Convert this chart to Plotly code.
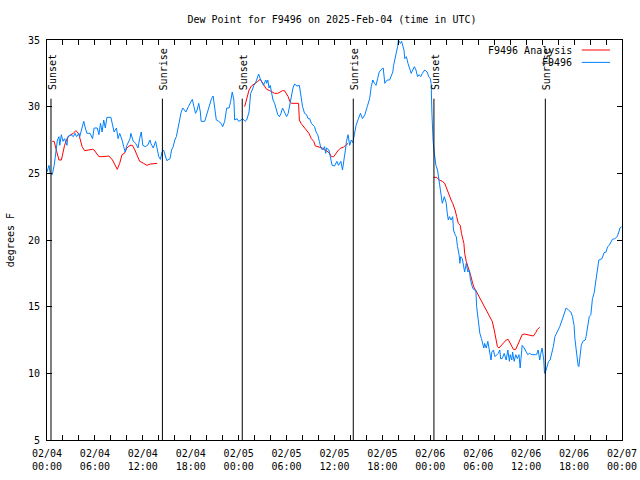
import plotly.graph_objects as go
import pandas as pd

BASE = pd.Timestamp("2025-02-04 00:00")

# Observed dew point (F9496), hours since 2025-02-04 00:00 UTC
obs_hours = [0.0, 0.25, 0.4, 0.66, 0.9, 1.1, 1.3, 1.5, 1.6, 1.8, 2.0, 2.2, 2.5, 2.6, 3.0, 3.3, 3.5, 3.7, 4.0, 4.1,
             4.4, 4.6, 4.8, 5.0, 5.4, 5.7, 5.9, 6.3, 6.5, 6.7, 6.9, 7.1, 7.3, 7.5, 8.0, 8.2, 8.4, 8.7, 8.9, 9.1,
             9.4, 9.6, 9.8, 10.0, 10.4, 10.5, 10.8, 11.1, 11.4, 11.6, 11.8, 12.0, 12.3, 12.6, 12.9, 13.0, 13.3, 13.6, 13.8, 14.0,
             14.2, 14.4, 14.6, 14.9, 15.0, 15.4, 15.6, 15.8, 16.0, 16.2, 16.4, 16.6, 16.8, 17.0, 17.4, 17.7, 18.0, 18.2, 18.4, 18.6,
             18.8, 19.0, 19.2, 19.3, 19.75, 20.0, 20.3, 20.6, 20.8, 21.0, 21.2, 21.5, 21.8, 22.0, 22.25, 22.5, 22.8, 23.0, 23.2, 23.4,
             23.5, 23.8, 24.0, 24.3, 24.5, 24.8, 25.0, 25.3, 25.5, 25.7, 25.9, 26.1, 26.3, 26.5, 26.7, 27.0, 27.1, 27.4, 27.5, 27.65,
             27.8, 27.95, 28.1, 28.3, 28.5, 28.7, 28.9, 29.1, 29.3, 29.5, 29.75, 30.0, 30.2, 30.4, 30.6, 30.8, 31.0, 31.3, 31.6, 31.8,
             32.0, 32.25, 32.5, 32.7, 32.9, 33.1, 33.3, 33.5, 33.7, 33.9, 34.1, 34.3, 34.5, 34.75, 34.9, 35.0, 35.3, 35.5, 35.7, 36.0,
             36.3, 36.5, 36.8, 37.0, 37.25, 37.4, 37.5, 37.7, 37.9, 38.1, 38.3, 38.5, 38.7, 39.0, 39.25, 39.5, 39.8, 40.1, 40.4, 40.6,
             40.8, 41.0, 41.2, 41.4, 41.6, 41.8, 42.1, 42.3, 42.6, 42.9, 43.1, 43.3, 43.4, 43.6, 43.8, 43.9, 44.0, 44.25, 44.4, 44.7,
             44.8, 45.0, 45.2, 45.4, 45.6, 45.8, 46.0, 46.2, 46.4, 46.6, 46.8, 47.0, 47.3, 47.6, 47.8, 48.0, 48.1, 48.2, 48.25, 48.35,
             48.5, 48.7, 48.9, 49.1, 49.25, 49.4, 49.5, 49.75, 50.0, 50.1, 50.25, 50.4, 50.6, 50.8, 50.9, 51.1, 51.25, 51.4, 51.6, 51.7,
             51.8, 52.0, 52.2, 52.3, 52.5, 52.7, 52.9, 53.0, 53.2, 53.3, 53.5, 53.7, 53.8, 54.0, 54.2, 54.4, 54.5, 54.7, 54.8, 55.0,
             55.2, 55.4, 55.6, 55.7, 55.9, 56.1, 56.3, 56.5, 56.7, 56.8, 57.0, 57.25, 57.5, 57.7, 57.9, 58.0, 58.2, 58.3, 58.5, 58.7,
             58.9, 59.1, 59.25, 59.4, 59.5, 59.75, 60.0, 60.2, 60.4, 60.7, 61.0, 61.3, 61.5, 61.7, 61.8, 62.0, 62.2, 62.3, 62.5, 62.8,
             63.0, 63.2, 63.4, 63.6, 63.9, 64.2, 64.5, 64.75, 65.0, 65.3, 65.6, 65.8, 66.0, 66.1, 66.3, 66.5, 66.6, 66.75, 66.9, 67.1,
             67.4, 67.5, 67.7, 67.9, 68.1, 68.3, 68.5, 68.7, 68.9, 69.1, 69.5, 69.75, 70.0, 70.2, 70.4, 70.6, 70.8, 71.1, 71.4, 71.6,
             71.75, 71.95]
obs_values = [25.1, 25.6, 25.0, 24.9, 25.6, 26.6, 27.5, 27.75, 27.1, 27.9, 27.4, 27.6, 27.1, 27.75, 27.9, 27.75, 28.0, 27.75, 28.0, 27.75,
              28.5, 28.9, 28.4, 28.0, 28.0, 27.6, 28.4, 28.4, 27.9, 28.75, 28.1, 29.0, 28.4, 29.2, 29.2, 28.6, 28.1, 28.4, 27.6, 28.0,
              27.5, 27.0, 26.6, 27.1, 27.6, 28.0, 27.4, 27.25, 26.9, 27.6, 28.1, 27.1, 27.0, 27.1, 27.5, 27.25, 26.9, 27.4, 26.9, 26.25,
              26.05, 26.6, 26.75, 26.0, 25.95, 26.1, 26.75, 27.0, 27.5, 27.75, 28.4, 29.0, 29.6, 29.9, 29.6, 30.0, 30.4, 30.55, 30.0, 29.5,
              29.75, 30.25, 29.6, 28.9, 28.9, 29.4, 30.0, 30.6, 30.8, 29.75, 29.0, 28.9, 28.75, 28.5, 28.9, 29.9, 29.9, 30.4, 31.1, 30.5,
              29.0, 29.1, 28.9, 29.0, 29.1, 28.9, 29.0, 29.6, 31.0, 31.25, 31.6, 31.75, 32.1, 32.45, 32.1, 31.75, 31.6, 32.0, 31.75, 32.0,
              31.4, 31.6, 31.0, 30.5, 30.25, 29.75, 29.4, 29.25, 29.5, 29.9, 29.5, 29.25, 29.5, 30.25, 30.75, 31.4, 31.7, 31.55, 31.6, 30.75,
              30.0, 29.5, 29.4, 29.1, 29.1, 28.75, 28.6, 28.5, 28.1, 27.9, 27.4, 26.9, 26.75, 27.0, 26.5, 26.9, 26.75, 26.0, 25.6, 25.55,
              25.9, 25.6, 25.9, 25.25, 26.1, 26.9, 27.4, 27.9, 27.1, 27.5, 27.3, 27.9, 28.6, 29.1, 29.5, 29.1, 29.4, 30.0, 30.6, 31.5,
              32.0, 31.75, 31.6, 32.1, 32.6, 32.75, 32.9, 31.75, 32.0, 32.0, 32.25, 32.6, 33.1, 33.6, 34.25, 34.5, 35.0, 34.75, 34.9, 34.25,
              33.6, 33.75, 33.25, 32.9, 32.5, 32.75, 33.0, 32.75, 32.25, 32.4, 32.25, 32.5, 32.75, 32.6, 32.25, 32.1, 31.75, 29.5, 28.1, 27.4,
              26.5, 25.6, 25.25, 24.5, 23.75, 23.25, 22.75, 23.25, 22.75, 22.1, 21.5, 21.75, 21.5, 21.75, 20.75, 20.4, 20.25, 19.5, 18.9, 18.25,
              18.75, 18.6, 17.75, 17.6, 18.25, 17.6, 17.75, 17.1, 16.6, 16.4, 16.25, 16.25, 15.0, 13.9, 13.0, 12.6, 12.4, 11.9, 12.25, 11.9,
              12.4, 11.5, 11.0, 11.6, 11.75, 11.25, 11.4, 11.5, 11.75, 11.1, 11.1, 11.5, 11.0, 11.75, 10.9, 11.4, 11.0, 11.6, 10.9, 11.4,
              11.1, 11.4, 10.4, 11.5, 12.1, 11.9, 11.6, 11.4, 11.5, 11.4, 11.4, 11.4, 11.75, 11.0, 11.4, 11.9, 11.0, 10.0, 10.25, 10.9,
              11.0, 11.5, 12.0, 12.75, 13.1, 13.5, 14.0, 14.4, 14.9, 14.75, 14.6, 14.25, 13.6, 12.6, 11.5, 10.6, 10.5, 11.4, 12.1, 12.4,
              12.5, 12.75, 13.5, 14.25, 14.4, 15.6, 16.0, 16.9, 17.5, 18.5, 18.6, 19.05, 19.1, 19.5, 19.6, 19.9, 20.05, 20.1, 20.25, 20.6,
              20.9, 21.0]

# Analysis dew point (F9496 Analysis); None marks gaps
ana_hours = [0.66, 0.9, 1.1, 1.3, 1.5, 1.8, 2.0, 2.2, 2.5, 2.75, 3.0, 3.3, 3.6, 3.8, 4.0, 4.2, 4.4, 4.7, 5.25, 5.7,
             5.9, 6.2, 6.5, 6.9, 7.75, 8.2, 8.5, 8.8, 9.1, 9.4, 9.7, 10.0, 10.4, 10.7, 11.0, 11.3, 11.6, 12.1, 12.5, 12.96,
             13.4, 13.8, None,
             24.75, 25.0, 25.3, 25.6, 26.0, 26.4, 26.7, 27.0, 27.25, 27.5, 27.9, 28.2, 28.5, 28.9, 29.1, 29.5, 29.75, 30.0, 30.2, 30.4,
             30.6, 31.5, 31.6, 31.8, 32.1, 32.5, 32.8, 33.1, 33.4, 33.6, 34.1, 34.5, 34.75, 35.0, 35.4, 35.6, 35.9, 36.2, 36.5, 36.8,
             37.1, 37.4, 37.7, None,
             48.4, 48.8, 49.1, 49.5, 49.8, 50.1, 50.4, 50.6, 50.8, 51.1, 51.3, 51.5, 51.75, 51.9, 52.2, 52.3, 52.5, 52.7, 52.9, 53.1,
             53.3, 53.5, 53.8, 54.1, 54.4, 54.75, 55.1, 55.4, 55.75, 56.0, 56.2, 56.4, 56.6, 57.0, 57.5, 57.75, 58.1, 58.4, 58.7, 59.1,
             59.5, 59.75, 60.2, 60.6, 60.9, 61.2, 61.4, 61.7]
ana_values = [27.4, 27.4, 26.9, 26.4, 26.0, 26.0, 26.6, 27.1, 27.6, 27.8, 27.9, 28.0, 28.2, 28.1, 27.9, 27.4, 27.0, 26.7, 26.75, 26.8,
              26.75, 26.5, 26.25, 26.25, 26.3, 26.0, 25.6, 25.3, 25.75, 26.4, 26.5, 26.9, 27.1, 27.1, 26.75, 26.25, 25.9, 25.75, 25.6, 25.7,
              25.75, 25.75, None,
              30.0, 30.6, 31.25, 31.55, 31.7, 31.9, 32.05, 31.75, 31.5, 31.3, 31.2, 31.1, 31.0, 31.0, 31.05, 31.2, 31.2, 31.0, 30.75, 30.4,
              30.25, 30.25, 29.0, 28.75, 28.5, 28.25, 28.0, 27.6, 27.4, 27.05, 26.95, 26.9, 26.75, 26.7, 26.5, 26.25, 26.25, 26.5, 26.75, 26.9,
              26.95, 27.1, 27.25, None,
              24.7, 24.7, 24.5, 24.4, 24.25, 23.75, 23.4, 23.0, 22.75, 22.25, 21.75, 21.25, 21.1, 20.5, 19.75, 19.0, 18.4, 18.0, 17.75, 17.25,
              16.75, 16.4, 16.1, 15.75, 15.4, 15.0, 14.6, 14.25, 13.9, 13.25, 12.6, 12.0, 11.9, 12.2, 12.5, 12.55, 12.2, 11.8, 11.8, 12.4,
              12.9, 12.95, 12.9, 12.8, 12.8, 13.05, 13.3, 13.45]

# Sun events (hours since start)
sun_hours = [0.5, 14.45, 24.45, 38.35, 48.45, 62.4]
sun_labels = ["Sunset", "Sunrise", "Sunset", "Sunrise", "Sunset", "Sunrise"]

# Axis ticks
tick_hours = [0, 6, 12, 18, 24, 30, 36, 42, 48, 54, 60, 66, 72]
tick_labels = ["02/04<br>00:00", "02/04<br>06:00", "02/04<br>12:00", "02/04<br>18:00",
               "02/05<br>00:00", "02/05<br>06:00", "02/05<br>12:00", "02/05<br>18:00",
               "02/06<br>00:00", "02/06<br>06:00", "02/06<br>12:00", "02/06<br>18:00",
               "02/07<br>00:00"]
minor_tick_hours = list(range(0, 73, 2))
y_ticks = [5, 10, 15, 20, 25, 30, 35]


def to_time(h):
    return None if h is None else BASE + pd.Timedelta(hours=h)


FONT = "DejaVu Sans Mono"
RED = "#ff0000"
BLUE = "#0080ff"
W, H = 640, 480

fig = go.Figure()
fig.add_trace(go.Scatter(x=[to_time(h) for h in ana_hours], y=ana_values, mode="lines",
                         name="F9496 Analysis", line=dict(color=RED, width=1), connectgaps=False))
fig.add_trace(go.Scatter(x=[to_time(h) for h in obs_hours], y=obs_values, mode="lines",
                         name="F9496", line=dict(color=BLUE, width=1)))

shapes = []
annotations = []
for h, lab in zip(sun_hours, sun_labels):
    shapes.append(dict(type="line", xref="x", yref="y", x0=to_time(h), x1=to_time(h), y0=5, y1=30.6,
                       line=dict(color="black", width=1)))
    annotations.append(dict(x=to_time(h), y=31.1, xref="x", yref="y", text=lab, showarrow=False,
                            textangle=-90, xanchor="center", yanchor="bottom", xshift=1,
                            font=dict(family=FONT, size=10, color="black")))

# Legend (text right-aligned, line sample to the right, like the original)
leg_names = ["F9496 Analysis", "F9496"]
leg_colors = [RED, BLUE]
leg_y = [0.975, 0.944]
for name, col, yy in zip(leg_names, leg_colors, leg_y):
    annotations.append(dict(x=0.9165, y=yy, xref="paper", yref="paper", text=name, showarrow=False,
                            xanchor="right", yanchor="middle", bgcolor="rgba(0,0,0,0)",
                            font=dict(family=FONT, size=10, color="black")))
    shapes.append(dict(type="line", xref="paper", yref="paper", x0=0.930, x1=0.979, y0=yy, y1=yy,
                       line=dict(color=col, width=1)))

annotations.append(dict(x=-0.064, y=0.5, xref="paper", yref="paper", text="degrees F", showarrow=False,
                        textangle=-90, xanchor="center", yanchor="middle",
                        font=dict(family=FONT, size=10, color="black")))

fig.update_layout(
    width=W, height=H,
    margin=dict(l=47, r=W - 622, t=40, b=H - 440, autoexpand=False),
    plot_bgcolor="white", paper_bgcolor="white",
    showlegend=False,
    hovermode=False,
    title=dict(text="Dew Point for F9496 on 2025-Feb-04 (time in UTC)", x=332 / W, y=1 - 19 / H,
               xref="container", yref="container", xanchor="center", yanchor="middle",
               font=dict(family=FONT, size=10, color="black")),
    font=dict(family=FONT, size=10, color="black"),
    shapes=shapes,
    annotations=annotations,
)
fig.update_xaxes(
    type="date", automargin=False,
    range=[to_time(0), to_time(72)],
    tickmode="array", tickvals=[to_time(h) for h in tick_hours], ticktext=tick_labels,
    ticks="inside", ticklen=5, tickcolor="black", tickwidth=1,
    minor=dict(tickmode="array", tickvals=[to_time(h) for h in minor_tick_hours],
               ticks="inside", ticklen=5, tickcolor="black", tickwidth=1),
    showline=True, linecolor="black", linewidth=1, mirror="ticks",
    showgrid=False, zeroline=False,
    tickfont=dict(family=FONT, size=10, color="black"),
    ticklabelstandoff=4, ticklabeloverflow="allow",
)
fig.update_yaxes(
    automargin=False,
    range=[5, 35],
    tickmode="array", tickvals=y_ticks, ticktext=[str(v) for v in y_ticks],
    ticks="inside", ticklen=5, tickcolor="black", tickwidth=1,
    showline=True, linecolor="black", linewidth=1, mirror="ticks",
    showgrid=False, zeroline=False,
    tickfont=dict(family=FONT, size=10, color="black"),
    ticklabelstandoff=4,
)

# Remove the default 8px page margin so the 640x480 figure fills the window exactly
fig.write_html("out.html", config={"displayModeBar": False, "staticPlot": True},
               post_script="document.body.style.margin='0px';document.body.style.overflow='hidden';")
